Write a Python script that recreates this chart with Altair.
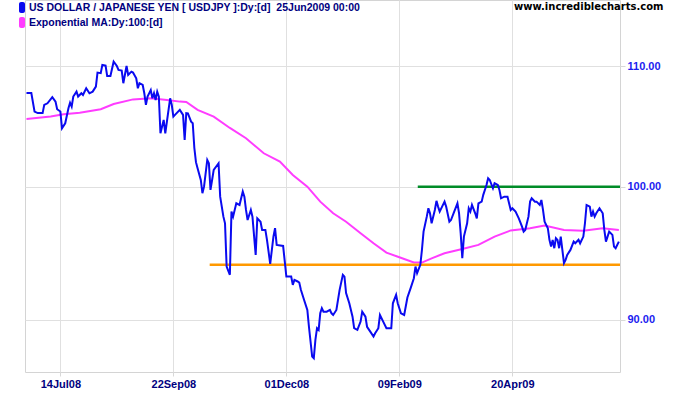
import altair as alt
import pandas as pd

# ---------------- data ----------------
usdjpy_dates = [
    "2008-06-23", "2008-06-26", "2008-06-28", "2008-06-30", "2008-07-03", "2008-07-04", "2008-07-06",
    "2008-07-09", "2008-07-11", "2008-07-12", "2008-07-14", "2008-07-15", "2008-07-17", "2008-07-19",
    "2008-07-20", "2008-07-21", "2008-07-22", "2008-07-24", "2008-07-25", "2008-07-27", "2008-07-28",
    "2008-07-30", "2008-08-01", "2008-08-03", "2008-08-05", "2008-08-06", "2008-08-08", "2008-08-09",
    "2008-08-11", "2008-08-12", "2008-08-14", "2008-08-16", "2008-08-18", "2008-08-19", "2008-08-21",
    "2008-08-22", "2008-08-24", "2008-08-25", "2008-08-27", "2008-08-28", "2008-08-30", "2008-08-31",
    "2008-09-01", "2008-09-03", "2008-09-04", "2008-09-05", "2008-09-06", "2008-09-08", "2008-09-09",
    "2008-09-10", "2008-09-11", "2008-09-12", "2008-09-13", "2008-09-14", "2008-09-16", "2008-09-17",
    "2008-09-18", "2008-09-20", "2008-09-21", "2008-09-22", "2008-09-23", "2008-09-26", "2008-09-28",
    "2008-09-29", "2008-09-30", "2008-10-01", "2008-10-03", "2008-10-04", "2008-10-05", "2008-10-06",
    "2008-10-07", "2008-10-09", "2008-10-10", "2008-10-11", "2008-10-13", "2008-10-14", "2008-10-15",
    "2008-10-16", "2008-10-17", "2008-10-20", "2008-10-21", "2008-10-23", "2008-10-24", "2008-10-25",
    "2008-10-27", "2008-10-28", "2008-10-29", "2008-10-31", "2008-11-02", "2008-11-04", "2008-11-05",
    "2008-11-06", "2008-11-07", "2008-11-09", "2008-11-10", "2008-11-12", "2008-11-13", "2008-11-15",
    "2008-11-16", "2008-11-18", "2008-11-19", "2008-11-21", "2008-11-23", "2008-11-24", "2008-11-25",
    "2008-11-29", "2008-12-01", "2008-12-04", "2008-12-05", "2008-12-06", "2008-12-08", "2008-12-09",
    "2008-12-10", "2008-12-12", "2008-12-14", "2008-12-15", "2008-12-17", "2008-12-18", "2008-12-19",
    "2008-12-20", "2008-12-21", "2008-12-22", "2008-12-23", "2008-12-24", "2008-12-26", "2008-12-28",
    "2008-12-29", "2008-12-30", "2009-01-01", "2009-01-03", "2009-01-05", "2009-01-06", "2009-01-07",
    "2009-01-09", "2009-01-11", "2009-01-12", "2009-01-14", "2009-01-16", "2009-01-17", "2009-01-19",
    "2009-01-20", "2009-01-22", "2009-01-24", "2009-01-25", "2009-01-27", "2009-01-28", "2009-01-30",
    "2009-02-01", "2009-02-04", "2009-02-05", "2009-02-07", "2009-02-08", "2009-02-10", "2009-02-12",
    "2009-02-14", "2009-02-16", "2009-02-18", "2009-02-19", "2009-02-20", "2009-02-22", "2009-02-23",
    "2009-02-24", "2009-02-26", "2009-02-27", "2009-02-28", "2009-03-01", "2009-03-03", "2009-03-04",
    "2009-03-05", "2009-03-06", "2009-03-09", "2009-03-10", "2009-03-12", "2009-03-13", "2009-03-15",
    "2009-03-17", "2009-03-18", "2009-03-19", "2009-03-20", "2009-03-21", "2009-03-23", "2009-03-24",
    "2009-03-25", "2009-03-26", "2009-03-28", "2009-03-29", "2009-03-30", "2009-04-01", "2009-04-02",
    "2009-04-04", "2009-04-05", "2009-04-06", "2009-04-08", "2009-04-09", "2009-04-11", "2009-04-12",
    "2009-04-13", "2009-04-15", "2009-04-17", "2009-04-19", "2009-04-20", "2009-04-22", "2009-04-24",
    "2009-04-26", "2009-04-27", "2009-04-28", "2009-04-30", "2009-05-01", "2009-05-02", "2009-05-04",
    "2009-05-05", "2009-05-07", "2009-05-08", "2009-05-09", "2009-05-10", "2009-05-12", "2009-05-13",
    "2009-05-14", "2009-05-15", "2009-05-16", "2009-05-17", "2009-05-18", "2009-05-19", "2009-05-20",
    "2009-05-21", "2009-05-22", "2009-05-23", "2009-05-24", "2009-05-26", "2009-05-28", "2009-05-29",
    "2009-05-31", "2009-06-01", "2009-06-03", "2009-06-04", "2009-06-05", "2009-06-07", "2009-06-08",
    "2009-06-09", "2009-06-10", "2009-06-11", "2009-06-13", "2009-06-15", "2009-06-16", "2009-06-17",
    "2009-06-18", "2009-06-19", "2009-06-21", "2009-06-22", "2009-06-23", "2009-06-25",
]
usdjpy_close = [
    107.70, 107.70, 106.13, 106.00, 106.00, 106.69, 106.83,
    107.35, 106.97, 106.33, 106.13, 104.73, 105.15, 106.41,
    106.88, 106.55, 107.40, 107.82, 107.40, 107.68, 107.54,
    108.11, 107.68, 107.82, 108.25, 109.46, 109.41, 110.12,
    110.06, 109.17, 109.17, 110.41, 110.03, 109.69, 109.63,
    108.54, 110.03, 109.26, 109.54, 109.46, 108.97, 108.11,
    108.54, 108.39, 107.68, 106.69, 107.40, 107.96, 107.25,
    107.68, 107.11, 107.82, 107.40, 104.32, 105.43, 104.32,
    105.29, 107.25, 106.70, 105.71, 105.85, 106.27, 105.85,
    103.77, 106.00, 105.98, 105.29, 105.15, 103.11, 101.96,
    101.47, 100.53, 99.48, 100.00, 102.14, 101.87, 99.74,
    100.53, 101.34, 101.87, 99.21, 97.65, 97.14, 93.86,
    93.25, 98.04, 97.65, 98.69, 98.56, 99.61, 99.21,
    98.17, 97.39, 98.17, 97.65, 94.74, 97.52, 97.26,
    96.63, 96.63, 95.87, 94.07, 96.12, 96.76, 95.49,
    95.41, 93.12, 93.12, 92.51, 92.88, 92.76, 92.68,
    92.15, 91.41, 90.69, 89.49, 87.40, 87.29, 88.56,
    89.39, 89.27, 90.45, 90.81, 90.57, 90.57, 90.69,
    90.45, 90.33, 90.69, 92.15, 93.25, 93.12, 91.91,
    91.17, 90.21, 89.39, 89.27, 89.86, 90.57, 90.21,
    89.49, 89.15, 88.80, 89.03, 89.39, 90.33, 89.86,
    89.39, 89.39, 91.17, 91.78, 91.17, 90.45, 90.33,
    91.59, 92.27, 93.00, 93.86, 93.37, 93.99, 95.11,
    96.50, 97.65, 98.30, 97.91, 97.14, 98.17, 98.88,
    98.43, 98.04, 98.82, 98.43, 97.26, 97.39, 98.04,
    98.69, 97.91, 96.38, 94.49, 96.12, 97.14, 98.30,
    98.04, 98.56, 97.91, 97.52, 98.69, 98.82, 99.35,
    100.13, 100.67, 100.53, 99.87, 100.27, 100.13, 99.74,
    99.08, 99.21, 99.20, 98.17, 98.30, 98.04, 97.52,
    96.88, 96.50, 96.63, 97.65, 98.82, 99.08, 98.82,
    98.82, 98.56, 98.95, 98.17, 97.26, 96.76, 95.87,
    95.36, 95.87, 95.24, 96.00, 95.87, 95.24, 96.12,
    95.11, 94.12, 94.36, 94.74, 95.11, 95.74, 95.61,
    95.87, 95.61, 96.12, 97.14, 98.56, 98.43, 97.65,
    98.04, 97.65, 97.91, 98.30, 97.91, 96.63, 95.74,
    96.12, 96.50, 96.25, 95.36, 95.24, 95.74,
]

ema_dates = [
    "2008-06-23", "2008-07-08", "2008-07-16", "2008-07-26", "2008-08-08", "2008-08-16", "2008-08-28",
    "2008-09-08", "2008-09-18", "2008-09-26", "2008-09-30", "2008-10-07", "2008-10-17", "2008-10-27",
    "2008-11-06", "2008-11-17", "2008-11-27", "2008-12-05", "2008-12-14", "2008-12-22", "2008-12-30",
    "2009-01-07", "2009-01-16", "2009-01-24", "2009-02-01", "2009-02-09", "2009-02-18", "2009-02-23",
    "2009-03-01", "2009-03-09", "2009-03-20", "2009-03-30", "2009-04-09", "2009-04-19", "2009-05-01",
    "2009-05-10", "2009-05-22", "2009-06-03", "2009-06-15", "2009-06-25",
]
ema_values = [
    105.51, 105.71, 105.91, 106.04, 106.33, 106.77, 107.16,
    107.25, 107.11, 106.97, 106.94, 106.27, 105.71, 104.76,
    103.91, 102.68, 102.00, 100.93, 100.00, 98.82, 97.91,
    97.26, 96.38, 95.61, 94.91, 94.56, 94.17, 94.16,
    94.48, 94.86, 95.18, 95.49, 96.12, 96.59, 96.76,
    96.96, 96.63, 96.57, 96.76, 96.63,
]

support_level = 94.00
support_start = "2008-10-14T12:00:00Z"
resistance_level = 100.00
resistance_start = "2009-02-20T10:00:00Z"
lines_end = "2009-06-25T17:00:00Z"

x_tick_dates = ["2008-07-14", "2008-09-22", "2008-12-01", "2009-02-09", "2009-04-20"]
y_tick_values = [90, 100, 110]
y_domain = [86.34, 115.94]

title_line1 = "US DOLLAR / JAPANESE YEN [ USDJPY ]:Dy:[d]\u00a0 25Jun2009 00:00"
title_line2 = "Exponential MA:Dy:100:[d]"
site_text = "www.incrediblecharts.com"

# ---------------- chart ----------------
FONT = "Liberation Sans"


def dt(s):
    t = pd.Timestamp(s)
    return alt.DateTime(year=t.year, month=t.month, date=t.day,
                        hours=t.hour, minutes=t.minute, utc=True)


x_scale = alt.Scale(type="utc", domain=[dt("2008-06-22T02:00"), dt("2009-06-25T17:00")])
x_axis = alt.Axis(values=[dt(d) for d in x_tick_dates],
                  labelExpr="utcFormat(datum.value, '%d%b%y')",
                  title=None, grid=True, gridColor="#e0e0e0", tickColor="#d8d8d8",
                  tickSize=4, domain=False, labelColor="#000080", labelFont=FONT,
                  labelFontSize=11, labelFontWeight="bold", labelPadding=2)
y_scale = alt.Scale(type="log", domain=y_domain, nice=False, zero=False)
y_axis = alt.Axis(orient="right", values=y_tick_values, format=".2f", title=None,
                  grid=True, gridColor="#e0e0e0", tickColor="#d8d8d8", tickSize=5,
                  domain=False, labelColor="#1c1cf0", labelFont=FONT, labelFontSize=11,
                  labelFontWeight="bold", labelPadding=2)

X = alt.X("date:T", scale=x_scale, axis=x_axis)
Y = alt.Y("price:Q", scale=y_scale, axis=y_axis)

price_df = pd.DataFrame({"date": usdjpy_dates, "price": usdjpy_close})
ema_df = pd.DataFrame({"date": ema_dates, "price": ema_values})
rules_df = pd.DataFrame({
    "date": [support_start, resistance_start],
    "date2": [lines_end, lines_end],
    "price": [support_level, resistance_level],
    "kind": ["support", "resistance"],
})

ema_line = alt.Chart(ema_df).mark_line(color="#ff3cff", strokeWidth=2).encode(x=X, y=Y)
price_line = alt.Chart(price_df).mark_line(color="#0a0af0", strokeWidth=2).encode(x=X, y=Y)
rules = alt.Chart(rules_df).mark_rule(strokeWidth=2.5).encode(
    x=X, x2="date2:T", y=Y,
    color=alt.Color("kind:N", scale=alt.Scale(domain=["support", "resistance"],
                                               range=["#ff9900", "#008c28"]), legend=None),
)

text1 = alt.Chart(pd.DataFrame({"t": [title_line1]})).mark_text(
    align="left", baseline="middle", font=FONT, fontSize=10.5, fontWeight="bold", color="#000080"
).encode(x=alt.value(4), y=alt.value(8), text="t:N")
text2 = alt.Chart(pd.DataFrame({"t": [title_line2]})).mark_text(
    align="left", baseline="middle", font=FONT, fontSize=10.5, fontWeight="bold", color="#000080"
).encode(x=alt.value(4), y=alt.value(23), text="t:N")
site = alt.Chart(pd.DataFrame({"t": [site_text]})).mark_text(
    align="left", baseline="middle", font="DejaVu Sans", fontSize=10, fontWeight="bold",
    color="#000000"
).encode(x=alt.value(489), y=alt.value(7), text="t:N")
swatch1 = alt.Chart(pd.DataFrame({"k": [1]})).mark_rect(color="#0a0af0", cornerRadius=2).encode(
    x=alt.value(-6), x2=alt.value(0), y=alt.value(2), y2=alt.value(13))
swatch2 = alt.Chart(pd.DataFrame({"k": [1]})).mark_rect(color="#ff3cff", cornerRadius=2).encode(
    x=alt.value(-6), x2=alt.value(0), y=alt.value(17), y2=alt.value(28))

chart = alt.layer(
    ema_line, rules, price_line, swatch1, swatch2, text1, text2, site
).properties(
    width=595, height=372,
    autosize=alt.AutoSizeParams(type="none"),
    padding={"left": 25, "top": 0, "right": 55, "bottom": 23},
    background="white",
).configure_view(
    stroke="#d4d4d4", strokeWidth=1
)

chart.save("out.html", embed_options={"renderer": "svg", "actions": False})
